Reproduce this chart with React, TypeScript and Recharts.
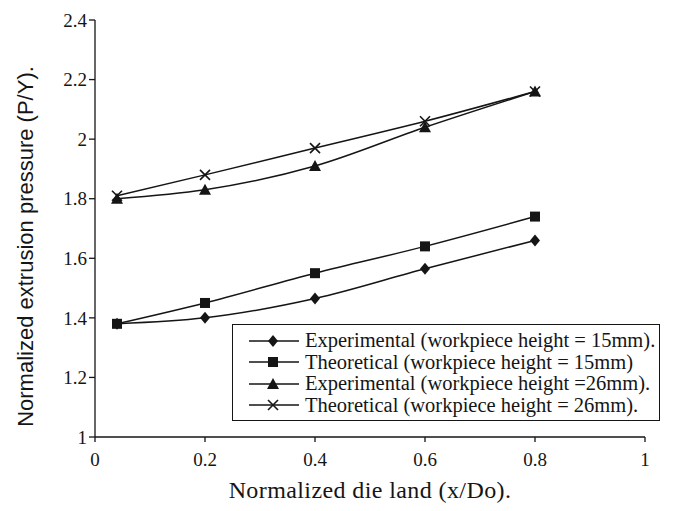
import React from 'react';
import {
  LineChart,
  Line,
  XAxis,
  YAxis,
  Legend,
  Label,
} from 'recharts';

const xValues = [0.04, 0.2, 0.4, 0.6, 0.8];
const expLow = [1.38, 1.4, 1.465, 1.565, 1.66];
const theoLow = [1.38, 1.45, 1.55, 1.64, 1.74];
const expHigh = [1.8, 1.83, 1.91, 2.04, 2.16];
const theoHigh = [1.81, 1.88, 1.97, 2.06, 2.16];

const xTicks = [0, 0.2, 0.4, 0.6, 0.8, 1];
const yTicks = [1, 1.2, 1.4, 1.6, 1.8, 2, 2.2, 2.4];

const series = [
  { key: 'expLow', name: 'Experimental (workpiece height = 15mm).', shape: 'diamond' },
  { key: 'theoLow', name: 'Theoretical (workpiece height = 15mm)', shape: 'square' },
  { key: 'expHigh', name: 'Experimental (workpiece height =26mm).', shape: 'triangle' },
  { key: 'theoHigh', name: 'Theoretical (workpiece height = 26mm).', shape: 'cross' },
];

const data = xValues.map((x, i) => ({
  x,
  expLow: expLow[i],
  theoLow: theoLow[i],
  expHigh: expHigh[i],
  theoHigh: theoHigh[i],
}));

const INK = '#151515';
const FONT = '"Liberation Serif", "Times New Roman", serif';
const SANS = '"Liberation Sans", Arial, sans-serif';

const Marker = ({ shape, cx, cy }: { shape: string; cx: number; cy: number }) => {
  if (shape === 'diamond') {
    return <polygon points={`${cx},${cy - 6} ${cx + 5},${cy} ${cx},${cy + 6} ${cx - 5},${cy}`} fill={INK} />;
  }
  if (shape === 'square') {
    return <rect x={cx - 5} y={cy - 5} width={10} height={10} fill={INK} />;
  }
  if (shape === 'triangle') {
    return <polygon points={`${cx},${cy - 6} ${cx + 6},${cy + 5} ${cx - 6},${cy + 5}`} fill={INK} />;
  }
  return (
    <g stroke={INK} strokeWidth={1.6}>
      <line x1={cx - 5} y1={cy - 5} x2={cx + 5} y2={cy + 5} />
      <line x1={cx - 5} y1={cy + 5} x2={cx + 5} y2={cy - 5} />
    </g>
  );
};

const makeDot = (shape: string) => (props: any) => (
  <Marker key={`${shape}-${props.index}`} shape={shape} cx={props.cx} cy={props.cy} />
);

// legend drawn as a bordered box sitting inside the plot
const LegendBox = () => (
  <div
    style={{
      border: `1.5px solid ${INK}`,
      background: '#fff',
      padding: '5px 0 5px 14px',
      boxSizing: 'border-box',
      width: 428,
      height: 97,
      fontFamily: FONT,
      fontSize: 20.5,
      color: INK,
    }}
  >
    {series.map((s) => (
      <div key={s.key} style={{ display: 'flex', alignItems: 'center', height: 21.5 }}>
        <svg width={58} height={14}>
          <line x1={2} y1={7} x2={52} y2={7} stroke={INK} strokeWidth={1.5} />
          <Marker shape={s.shape} cx={26} cy={7} />
        </svg>
        <span style={{ whiteSpace: 'nowrap' }}>{s.name}</span>
      </div>
    ))}
  </div>
);

const YTitle = (props: any) => {
  const { viewBox } = props;
  const cy = viewBox.y + viewBox.height / 2 + 18;
  return (
    <text
      x={25}
      y={cy}
      transform={`rotate(-90 25 ${cy})`}
      textAnchor="middle"
      dominantBaseline="central"
      fontFamily={SANS}
      fontSize={22}
      fill={INK}
    >
      Normalized extrusion pressure (P/Y).
    </text>
  );
};

const App = () => {
  return (
    <div style={{ position: 'absolute', left: 0, top: 0, background: '#fff' }}>
      <LineChart
        width={681}
        height={511}
        data={data}
        margin={{ top: 20, right: 36, bottom: 0, left: 35 }}
      >
        <XAxis
          dataKey="x"
          type="number"
          domain={[0, 1]}
          ticks={xTicks}
          tickFormatter={(v: number) => String(v)}
          stroke={INK}
          strokeWidth={1.3}
          tickSize={5}
          tick={{ fill: INK, fontFamily: FONT, fontSize: 19, dy: 9 }}
          height={74}
        >
          <Label
            value="Normalized die land (x/Do)."
            position="insideTop"
            offset={44}
            style={{ fill: INK, fontFamily: FONT, fontSize: 24, letterSpacing: 0.4 }}
          />
        </XAxis>
        <YAxis
          type="number"
          domain={[1, 2.4]}
          ticks={yTicks}
          stroke={INK}
          strokeWidth={1.3}
          tickSize={6}
          width={60}
          tick={{ fill: INK, fontFamily: FONT, fontSize: 19 }}
        >
          <Label content={<YTitle />} />
        </YAxis>
        <Legend
          layout="vertical"
          align="center"
          verticalAlign="middle"
          wrapperStyle={{ left: 232, top: 324, width: 428, height: 97 }}
          content={() => <LegendBox />}
        />
        {series.map((s) => (
          <Line
            key={s.key}
            dataKey={s.key}
            name={s.name}
            type="monotone"
            stroke={INK}
            strokeWidth={1.5}
            dot={makeDot(s.shape)}
            activeDot={false}
            isAnimationActive={false}
          />
        ))}
      </LineChart>
    </div>
  );
};

export default App;
